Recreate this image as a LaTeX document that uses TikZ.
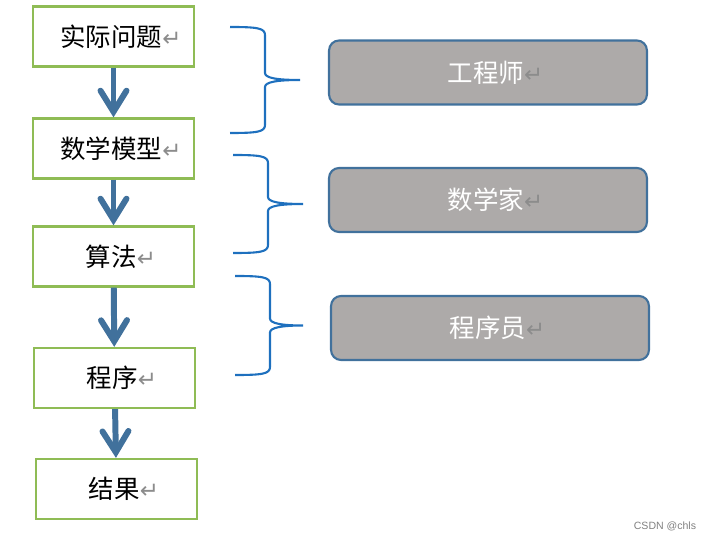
\documentclass[tikz,border=0pt]{standalone}
\usepackage{fontspec}
\usepackage{xcolor}
\usetikzlibrary{positioning,arrows.meta,calc}
\setmainfont{Noto Sans CJK SC}
\newfontfamily\symfont{DejaVu Sans}
\newfontfamily\markfont{Liberation Sans}
\definecolor{cStep}{HTML}{8FBC55}
\definecolor{cFlow}{HTML}{41719C}
\definecolor{cBrace}{HTML}{1E70BE}
\definecolor{cRole}{HTML}{ADAAA9}
\newcommand{\retmark}{{\symfont\fontsize{13}{14}\selectfont\color{black!45}↵}}

\begin{document}
\begin{tikzpicture}[
  x=0.02cm, y=-0.02cm,
  font=\fontsize{14.5}{17}\selectfont,
  stepbox/.style={draw=cStep, line width=1.3pt, fill=white,
                  minimum width=3.22cm, minimum height=1.2cm, inner sep=0pt},
  role/.style   ={draw=cFlow, line width=1.2pt, fill=cRole, text=white,
                  rounded corners=0.2cm, minimum width=6.36cm, minimum height=1.28cm},
  flow/.style   ={-{Straight Barb[length=0.42cm,width=0.52cm,line cap=round]},
                  draw=cFlow, line width=3.4pt},
  curly/.style  ={draw=cBrace, line width=1.2pt},
]
\useasboundingbox (0,0) rectangle (707,540);

\node[stepbox] (q)   at (113.5,36.5) {\hspace*{0.3cm}实际问题\retmark};
\node[stepbox] (m)   at (113.5,148.5){\hspace*{0.3cm}数学模型\retmark};
\node[stepbox] (alg) at (113.5,256.5){\hspace*{0.3cm}算法\retmark};
\node[stepbox] (p)   at (114.5,378)  {\hspace*{0.3cm}程序\retmark};
\node[stepbox] (res) at (116.5,489)  {\hspace*{0.3cm}结果\retmark};

\node[role] (eng)  at (488,72.5) {\hspace*{0.3cm}工程师\retmark};
\node[role] (math) at (488,200)  {\hspace*{0.3cm}数学家\retmark};
\node[role] (prog) at (490,328)  {\hspace*{0.3cm}程序员\retmark};

\draw[flow] (q)   -- (m);
\draw[flow] (m)   -- (alg);
\draw[flow] (alg) -- (p);
\draw[flow] (p)   -- (res);

% braces between the steps and the roles
\foreach \xa/\ya/\yb/\xv/\xt in {230/27/133/265/300, 233/155/253/268/303, 235/276/375/270/303}{
  \pgfmathsetmacro{\ym}{(\ya+\yb)/2}
  \draw[curly] (\xa,\ya) .. controls (\xv-8,\ya) and (\xv,\ya+1) .. (\xv,\ya+8)
    -- (\xv,\ym-7) .. controls (\xv,\ym-2) and (\xv+12,\ym) .. (\xt,\ym)
    .. controls (\xv+12,\ym) and (\xv,\ym+2) .. (\xv,\ym+7)
    -- (\xv,\yb-8) .. controls (\xv,\yb-1) and (\xv-8,\yb) .. (\xa,\yb);
}

\node[font=\markfont\fontsize{6}{7}\selectfont, text=black!50] (mark) at (665,526) {CSDN @chls};
\end{tikzpicture}
\end{document}
